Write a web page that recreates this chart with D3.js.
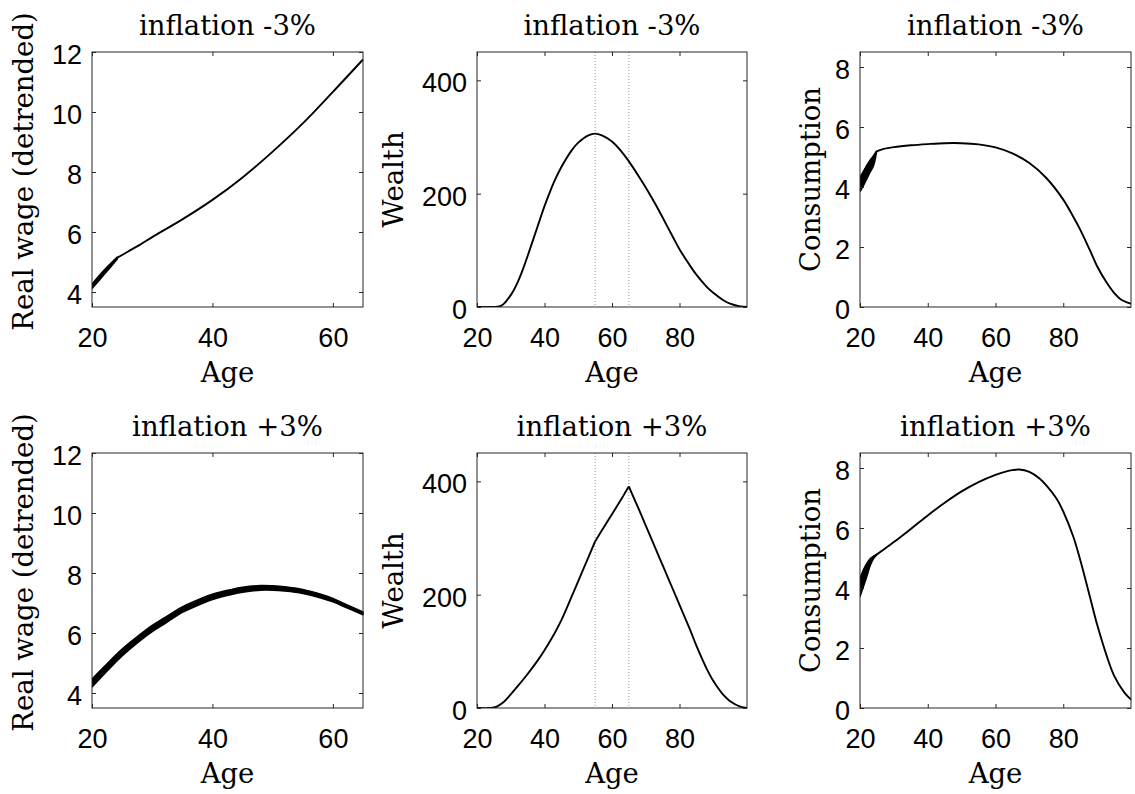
<!DOCTYPE html>
<html>
<head>
<meta charset="utf-8">
<script src="https://cdn.jsdelivr.net/npm/d3@7"></script>
<style>
body{margin:0;background:#fff;}
</style>
</head>
<body>
<svg id="fig" width="1135" height="794"></svg>
<script>
// ---- data ----
// real wage (detrended)
var ageWageM3 = [20,22,24.2,26,28,30,35,40,45,50,55,60,65];
var wageM3 = [4.22,4.68,5.14,5.35,5.58,5.83,6.42,7.07,7.82,8.68,9.62,10.67,11.75];
var ageWageM3Band = [20,22,24.2];
var wageM3BandLo = [4.12,4.58,5.1];
var wageM3BandHi = [4.26,4.72,5.16];

var ageWageP3 = [20,22,25,28,30,32,35,38,40,43,45,48,50,52,55,58,60,62,65];
var wageP3Hi = [4.46,4.87,5.46,5.95,6.25,6.5,6.87,7.14,7.29,7.44,7.52,7.58,7.57,7.54,7.45,7.29,7.15,6.97,6.7];
var wageP3Lo = [4.2,4.63,5.24,5.75,6.05,6.3,6.69,6.96,7.12,7.28,7.36,7.43,7.43,7.4,7.32,7.17,7.04,6.87,6.61];

// wealth
var ageWealthM3 = [20,24,26,27,28,29,30,31,32,33,34,35,38,40,42,43,45,48,50,53,55,57,60,63,65,68,70,73,75,78,80,83,85,88,90,93,95,98,100];
var wealthM3 = [0,0,0.5,2,6,13,21,31,43,57,73,90,143,178,209,223,247,276,290,303,306,303,292,273,257,230,211,180,158,124,102,74,57,36,25,12,6,1,0];
var ageWealthP3 = [20,24,25,26,28,30,32,35,38,40,43,45,48,50,53,55,58,60,63,64,65,66,68,70,73,75,78,80,83,85,88,90,93,95,98,100];
var wealthP3 = [0,0,1,3,11,24,38,60,84,102,132,155,196,224,266,294,323,342,371,381,391,377,350,322,280,252,210,182,140,110,70,48,23,12,2.5,0];

// consumption
var ageConsM3 = [20,21,22,23,24,24.9,27,30,35,40,45,50,55,60,65,70,75,80,83,85,88,90,93,95,97,100];
var consM3 = [4.3,4.5,4.7,4.88,5.03,5.19,5.27,5.33,5.39,5.43,5.46,5.46,5.42,5.32,5.12,4.8,4.3,3.58,3.0,2.58,1.86,1.36,0.78,0.47,0.25,0.11];
var ageConsM3Band = [20,21,22,23,24,24.9];
var consM3BandLo = [3.85,4.05,4.27,4.5,4.72,5.19];

var ageConsP3 = [20,21,22,23,24,25,27,30,35,40,45,50,55,60,63,65,67,70,73,75,78,80,83,85,88,90,93,95,98,100];
var consP3 = [4.28,4.58,4.8,4.96,5.05,5.12,5.28,5.53,5.97,6.42,6.84,7.22,7.53,7.77,7.88,7.93,7.95,7.87,7.65,7.42,6.98,6.55,5.7,4.94,3.65,2.78,1.68,1.08,0.52,0.28];
var ageConsP3Band = [20,21,22,23,24,25];
var consP3BandLo = [3.72,4.05,4.38,4.75,4.98,5.12];

var retireAges = [55, 65];

var titles = ["inflation -3%", "inflation +3%"];
var yLabels = ["Real wage (detrended)", "Wealth", "Consumption"];
var xTicksWage = [20,40,60], xTicksLife = [20,40,60,80];
var yTicksWage = [4,6,8,10,12], yTicksWealth = [0,200,400], yTicksCons = [0,2,4,6,8];

function zip(xs, ys) { return xs.map(function(a, i){ return {x: a, y: ys[i]}; }); }
function zip2(xs, lo, hi) { return xs.map(function(a, i){ return {x: a, lo: lo[i], hi: hi[i]}; }); }

var panels = [
	{col:0,row:0,xDomain:[20,65],xTicks:xTicksWage,yDomain:[3.5,12],yTicks:yTicksWage,
		line:zip(ageWageM3,wageM3),kinks:[24.2],band:zip2(ageWageM3Band,wageM3BandLo,wageM3BandHi)},
	{col:1,row:0,xDomain:[20,100],xTicks:xTicksLife,yDomain:[0,450],yTicks:yTicksWealth,
		line:zip(ageWealthM3,wealthM3),kinks:[],vlines:retireAges},
	{col:2,row:0,xDomain:[20,100],xTicks:xTicksLife,yDomain:[0,8.5],yTicks:yTicksCons,
		line:zip(ageConsM3,consM3),kinks:[24.9],band:zip2(ageConsM3Band,consM3BandLo,consM3.slice(0,6))},
	{col:0,row:1,xDomain:[20,65],xTicks:xTicksWage,yDomain:[3.5,12],yTicks:yTicksWage,
		line:null,band:zip2(ageWageP3,wageP3Lo,wageP3Hi)},
	{col:1,row:1,xDomain:[20,100],xTicks:xTicksLife,yDomain:[0,450],yTicks:yTicksWealth,
		line:zip(ageWealthP3,wealthP3),kinks:[55,65],vlines:retireAges},
	{col:2,row:1,xDomain:[20,100],xTicks:xTicksLife,yDomain:[0,8.5],yTicks:yTicksCons,
		line:zip(ageConsP3,consP3),kinks:[25],band:zip2(ageConsP3Band,consP3BandLo,consP3.slice(0,6))}
];

// ---- layout ----
var cols = [92, 477, 860], widths = [271, 270, 271], rows = [52, 453], boxH = 255;
var yLabX = [33, 403, 820], yLabShift = [-8, 0, 0];
var serif = "DejaVu Serif", sans = "Liberation Sans";
var axisColor = "#262626";
var smooth = d3.curveCatmullRom.alpha(0.5);

var svg = d3.select("#fig");

// split a series at kink ages so the smooth curve keeps its corners
function segments(data, kinks) {
	var out = [], cur = [];
	data.forEach(function(d){
		cur.push(d);
		if (kinks.indexOf(d.x) >= 0) { out.push(cur); cur = [d]; }
	});
	if (cur.length > 1) out.push(cur);
	return out;
}

panels.forEach(function(p, i){
	var x0 = cols[p.col], y0 = rows[p.row], w = widths[p.col];
	var x = d3.scaleLinear().domain(p.xDomain).range([x0, x0 + w]);
	var y = d3.scaleLinear().domain(p.yDomain).range([y0 + boxH, y0]);
	var g = svg.append("g");

	g.append("clipPath").attr("id", "clip" + i)
		.append("rect").attr("x", x0).attr("y", y0 - 2).attr("width", w + 2).attr("height", boxH + 2);
	var plot = g.append("g").attr("clip-path", "url(#clip" + i + ")");

	if (p.vlines) {
		plot.selectAll("line.vl").data(p.vlines).enter().append("line")
			.attr("class","vl")
			.attr("x1", function(d){ return x(d); }).attr("x2", function(d){ return x(d); })
			.attr("y1", y0).attr("y2", y0 + boxH)
			.attr("stroke", "#8c8c8c").attr("stroke-width", 1)
			.attr("stroke-dasharray", "1,2");
	}

	if (p.band) {
		plot.append("path").datum(p.band)
			.attr("d", d3.area().curve(smooth)
				.x(function(d){ return x(d.x); })
				.y0(function(d){ return y(d.lo); })
				.y1(function(d){ return y(d.hi); }))
			.attr("fill", "#000").attr("stroke", "#000").attr("stroke-width", 1.6)
			.attr("stroke-linejoin", "round");
	}

	if (p.line) {
		var lineGen = d3.line().curve(smooth)
			.x(function(d){ return x(d.x); })
			.y(function(d){ return y(d.y); });
		plot.selectAll("path.series").data(segments(p.line, p.kinks)).enter().append("path")
			.attr("class","series")
			.attr("d", lineGen)
			.attr("fill", "none").attr("stroke", "#000").attr("stroke-width", 1.9)
			.attr("stroke-linejoin", "round");
	}

	// axes with inward ticks on all four sides
	var bottom = g.append("g").attr("transform", "translate(0," + (y0 + boxH) + ")")
		.call(d3.axisBottom(x).tickValues(p.xTicks).tickSizeInner(-4).tickSizeOuter(0).tickPadding(21));
	var left = g.append("g").attr("transform", "translate(" + x0 + ",0)")
		.call(d3.axisLeft(y).tickValues(p.yTicks).tickSizeInner(-4).tickSizeOuter(0).tickPadding(10));
	var top = g.append("g").attr("transform", "translate(0," + y0 + ")")
		.call(d3.axisTop(x).tickValues(p.xTicks).tickSizeInner(-4).tickSizeOuter(0).tickFormat(""));
	var right = g.append("g").attr("transform", "translate(" + (x0 + w) + ",0)")
		.call(d3.axisRight(y).tickValues(p.yTicks).tickSizeInner(-4).tickSizeOuter(0).tickFormat(""));
	[bottom, left, top, right].forEach(function(a){
		a.select(".domain").remove();
		a.selectAll("line").attr("stroke", axisColor);
		a.selectAll("text").attr("font-family", sans).attr("font-size", 27).attr("fill", "#000");
	});
	left.selectAll("text").attr("dy", "0.42em");

	g.append("rect")
		.attr("x", x0).attr("y", y0).attr("width", w).attr("height", boxH)
		.attr("fill", "none").attr("stroke", axisColor).attr("stroke-width", 1);

	g.append("text")
		.attr("x", x0 + w / 2).attr("y", y0 - 17)
		.attr("text-anchor", "middle")
		.attr("font-family", serif).attr("font-size", 27.5)
		.text(titles[p.row]);

	g.append("text")
		.attr("x", x0 + w / 2).attr("y", y0 + boxH + 75)
		.attr("text-anchor", "middle")
		.attr("font-family", serif).attr("font-size", 27.5)
		.text("Age");

	g.append("text")
		.attr("transform", "translate(" + yLabX[p.col] + "," + (y0 + boxH / 2 + yLabShift[p.col]) + ") rotate(-90)")
		.attr("text-anchor", "middle")
		.attr("font-family", serif).attr("font-size", 27.5)
		.text(yLabels[p.col]);
});
</script>
</body>
</html>
